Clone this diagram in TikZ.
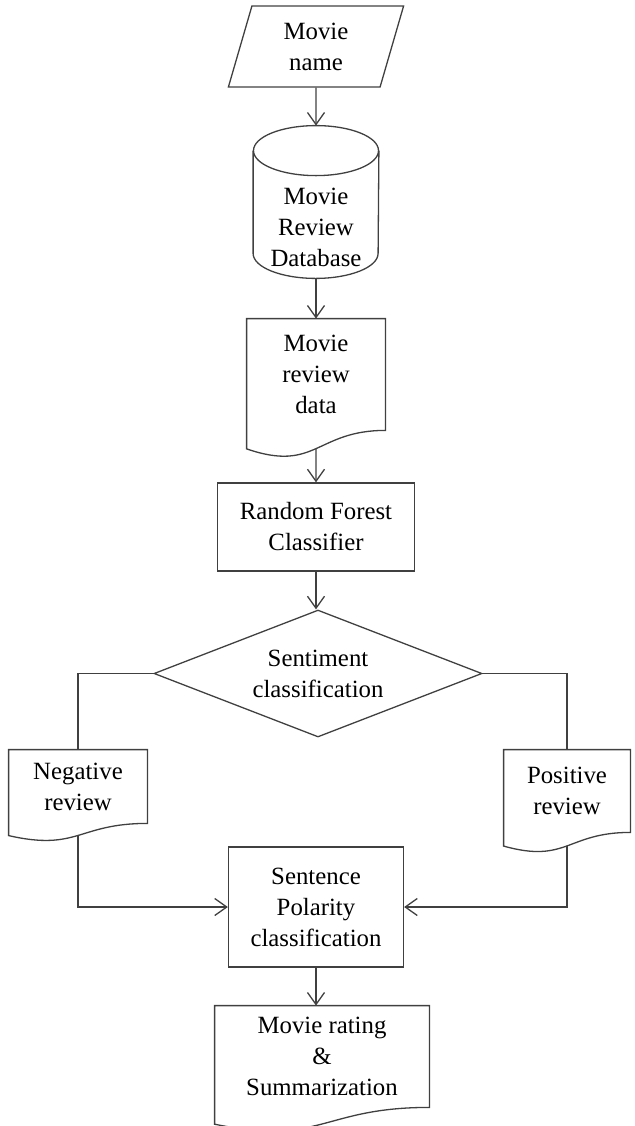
\documentclass[tikz,border=0pt]{standalone}
\usepackage{fontspec}
\setmainfont{Liberation Serif}
\usetikzlibrary{arrows.meta,shapes.geometric,calc}

% outline of a document symbol round a named node
\newcommand{\docframe}[1]{%
  \draw[flow] (#1.south west) -- (#1.north west) -- (#1.north east) -- (#1.south east)
    .. controls (#1.south) and ($(#1.south)!-0.38!(#1.north)$)
    .. ($(#1.south west)!-0.165!(#1.north west)$) coordinate[pos=0.5] (#1-tail) -- cycle;}

\begin{document}
\begin{tikzpicture}[x=0.5pt,y=-0.5pt,
    flow/.style={draw=black!75,line width=0.65pt},
    every node/.style={align=center,inner sep=0pt,font=\fontsize{12.4}{15.5}\selectfont},
    proc/.style={flow,rectangle},
    io/.style={flow,trapezium,trapezium left angle=76,trapezium right angle=104,trapezium stretches=true},
    decision/.style={flow,diamond,aspect=2.58},
    >={Straight Barb[length=6pt,width=8.5pt]}]
  \useasboundingbox (0,0) rectangle (635,1126);
  % input
  \node[io,minimum width=88pt,minimum height=40.5pt] (name) at (316,46.5) {Movie\\name};
  % database
  \node[minimum width=62.5pt,minimum height=51pt] (db) at (316,227) {Movie\\Review\\Database};
  \draw[flow] ($(db.north west)+(0,-25)$) -- ($(db.south west)+(0,-25)$)
    arc[start angle=180,end angle=360,x radius=31.25pt,y radius=12.5pt]
    -- ($(db.north east)+(0,-25)$);
  \draw[flow] ($(db.north)+(0,-25)$) ellipse [x radius=31.25pt,y radius=12.5pt];
  \coordinate (dbtop) at ($(db.north)+(0,-50)$);
  % documents and steps
  \node[minimum width=69pt,minimum height=55.5pt] (data) at (316,374.5) {Movie\\review\\data};
  \docframe{data}
  \node[proc,minimum width=98.5pt,minimum height=44pt] (rfc) at (316,527) {Random Forest\\Classifier};
  \node[decision,minimum width=164pt,minimum height=63.5pt] (sd) at (318,673.5) {Sentiment\\classification};
  \node[minimum width=69pt,minimum height=36.5pt] (neg) at (78,786.5) {Negative\\review};
  \docframe{neg}
  \node[minimum width=63pt,minimum height=41pt] (pos) at (567,791) {Positive\\review};
  \docframe{pos}
  \node[proc,minimum width=87.5pt,minimum height=60pt] (spc) at (316,907) {Sentence\\Polarity\\classification};
  \node[minimum width=107pt,minimum height=50.5pt] (rating) at (322,1056.5) {Movie rating\\\&\\Summarization};
  \docframe{rating}
  % connectors
  \draw[flow,->] (name.south) -- (dbtop);
  \draw[flow,->] (db.south) -- (data.north);
  \draw[flow,->] (data-tail) -- (rfc.north);
  \draw[flow,->] (rfc.south) -- (rfc.south |- sd.north);
  \draw[flow] (sd.west) -| (neg.north);
  \draw[flow] (sd.east) -| (pos.north);
  \draw[flow,->] (neg-tail) |- (spc.west);
  \draw[flow,->] (pos-tail) |- (spc.east);
  \draw[flow,->] (spc.south) -- (spc.south |- rating.north);
\end{tikzpicture}
\end{document}
